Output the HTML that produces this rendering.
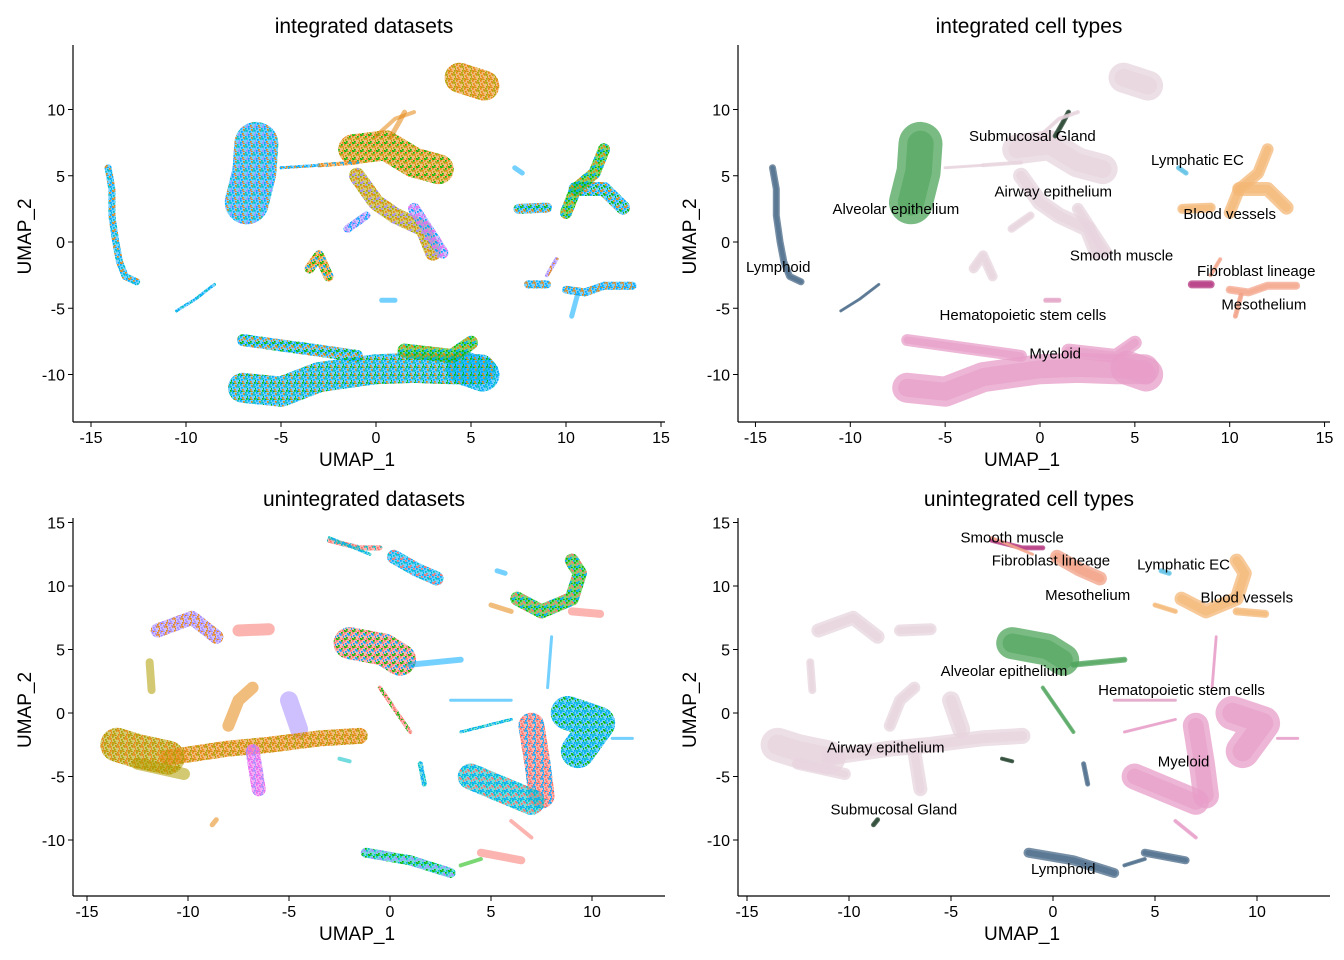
<!DOCTYPE html>
<html><head><meta charset="utf-8">
<style>
html,body{margin:0;padding:0;background:#fff;}
svg{display:block;font-family:"Liberation Sans","DejaVu Sans",sans-serif;}
</style></head>
<body>
<svg id="chart" width="1344" height="960" viewBox="0 0 1344 960"><defs id="defs"></defs></svg>
<script>
// ---------- data: cluster skeleton points (UMAP coordinates) ----------
const topNames = ["lymphoid","lymphoid-b","alveolar","airway-top","airway-main","airway-string","airway-string2","airway-link","airway-link2","airway-up","airway-left","airway-mid","submucosal","blood-a","blood-b","blood-c","lymphatic","smooth-muscle","fibroblast-a","fibroblast-b","mesothelium","hematopoietic","myeloid-body","myeloid-top","myeloid-right","myeloid-head"];
const topPoints = [
 [[-14.1,5.6],[-13.9,4],[-13.9,2],[-13.7,0],[-13.5,-1.5],[-13.2,-2.6],[-12.6,-3]],
 [[-10.5,-5.2],[-9.5,-4.3],[-8.5,-3.2]],
 [[-6.8,3],[-6.4,5.3],[-6.3,7.4]],
 [[4.4,12.4],[5.7,11.8]],
 [[-1.2,7],[0.5,7.3],[2,6],[3.3,5.5]],
 [[-1,5],[0,3],[1,2],[2.5,1],[3,-0.8]],
 [[2,2.5],[3.5,-0.8]],
 [[-3,5.8],[-1,6]],
 [[-5,5.6],[-3,5.8]],
 [[0,8],[1,9.3],[2,9.8]],
 [[-3.5,-2],[-3,-1],[-2.5,-2.6]],
 [[-1.5,1],[-0.5,2]],
 [[0.8,8],[1.2,9],[1.5,9.8]],
 [[7.5,2.5],[9,2.6]],
 [[10,2.2],[10.5,4],[11.5,5.2],[12,7]],
 [[10.5,4],[12,4],[13,2.6]],
 [[7.3,5.6],[7.7,5.2]],
 [[8,-3.2],[9,-3.2]],
 [[9,-2.5],[9.5,-1.3]],
 [[10,-3.6],[11,-3.8],[12,-3.3],[13.5,-3.3]],
 [[10.6,-4],[10.3,-5.6]],
 [[0.3,-4.4],[1,-4.4]],
 [[-7,-11],[-5,-11.3],[-3,-10.2],[0,-9.6],[2,-9.5],[4,-9.6],[5.5,-9.6]],
 [[-7,-7.4],[-4,-8],[-1,-8.6]],
 [[1.5,-8.2],[4,-8.6],[5,-7.6]],
 [[4.6,-9.5],[5.6,-10]]
];
const topWidth = [7,3,44,30,30,16,12,4,3,4,10,8,5,10,12,14,5,8,4,8,5,5,30,12,14,34];
const topType = ["Lymphoid","Lymphoid","Alveolar epithelium","Airway epithelium","Airway epithelium","Airway epithelium","Airway epithelium","Airway epithelium","Airway epithelium","Airway epithelium","Airway epithelium","Airway epithelium","Submucosal Gland","Blood vessels","Blood vessels","Blood vessels","Lymphatic EC","Smooth muscle","Fibroblast lineage","Fibroblast lineage","Mesothelium","Hematopoietic stem cells","Myeloid","Myeloid","Myeloid","Myeloid"];
const topMix = ["bto","bt","btop","oa","oag","aop","pbm","ob","bo","o","obg","pb","o","bog","gob","bgo","b","bo","po","bo","b","b","btog","bog","gob","bt"];

const botNames = ["smooth-muscle","fibro-line","fibroblast","lymphatic","blood-a","blood-b","blood-c","alveolar","alveolar-tail","alveolar-link","myeloid-a","myeloid-b","myeloid-c","myeloid-d","myeloid-e","myeloid-f","myeloid-g","myeloid-h","airway-tl","airway-strip","airway-long-a","airway-long-b","airway-orange","airway-pink","airway-purple","airway-low","airway-tl2","submucosal","gland-small","lymphoid-a","lymphoid-b","lymphoid-c","lymphoid-d"];
const botPoints = [
 [[-3,13.6],[-1.5,13],[-0.5,13]],
 [[-3,13.8],[-1,12.5]],
 [[0.2,12.3],[1.3,11.3],[2.3,10.6]],
 [[5.3,11.2],[5.7,11]],
 [[6.3,9],[7.5,8],[9,9],[9.4,11],[9,12]],
 [[9,8],[10.4,7.8]],
 [[5,8.5],[6,8]],
 [[-2,5.5],[-0.3,5],[0.5,4.2]],
 [[1,3.8],[3.5,4.2]],
 [[-0.5,2],[1,-1.5]],
 [[7,-1],[7.3,-4],[7.5,-6.5]],
 [[8.8,0],[10.3,-0.8],[9.3,-3]],
 [[4,-5],[5.5,-6],[7,-7]],
 [[3,1],[6,1]],
 [[7.8,2],[8,6]],
 [[11,-2],[12,-2]],
 [[3.5,-1.5],[6,-0.5]],
 [[6,-8.5],[7,-9.8]],
 [[-11.5,6.5],[-9.8,7.5],[-8.6,6]],
 [[-11.9,4],[-11.8,1.8]],
 [[-13.5,-2.5],[-12.5,-3],[-11,-3.5]],
 [[-11,-3.5],[-8,-2.8],[-6,-2.5],[-3.5,-2],[-1.5,-1.8]],
 [[-8,-1],[-7.5,1],[-6.8,2]],
 [[-6.8,-3],[-6.5,-6]],
 [[-5,1],[-4.5,-1.3]],
 [[-12.5,-4],[-10.2,-4.8]],
 [[-7.5,6.5],[-6,6.6]],
 [[-8.8,-8.8],[-8.6,-8.4]],
 [[-2.5,-3.6],[-2,-3.8]],
 [[-1.2,-11],[1,-11.6],[3,-12.6]],
 [[4.5,-11],[6.5,-11.6]],
 [[1.5,-4],[1.7,-5.6]],
 [[3.5,-12],[4.5,-11.5]]
];
const botWidth = [5,3,14,5,14,8,5,32,6,4,26,34,26,3,3,3,3,4,14,8,34,16,12,14,18,12,12,5,4,10,8,5,4];
const botType = ["Smooth muscle","Fibroblast lineage","Mesothelium","Lymphatic EC","Blood vessels","Blood vessels","Blood vessels","Alveolar epithelium","Alveolar epithelium","Alveolar epithelium","Myeloid","Myeloid","Myeloid","Hematopoietic stem cells","Myeloid","Myeloid","Myeloid","Myeloid","Airway epithelium","Airway epithelium","Airway epithelium","Airway epithelium","Airway epithelium","Airway epithelium","Airway epithelium","Airway epithelium","Airway epithelium","Submucosal Gland","Submucosal Gland","Lymphoid","Lymphoid","Lymphoid","Lymphoid"];
const botMix = ["rt","tb","btr","b","grb","r","o","rbg","b","rg","rb","bgt","trb","b","b","b","tb","r","po","y","yo","oy","o","mp","p","y","r","o","t","tpg","r","tb","g"];

const topLabels = ["Submucosal Gland","Lymphatic EC","Airway epithelium","Alveolar epithelium","Blood vessels","Lymphoid","Smooth muscle","Fibroblast lineage","Mesothelium","Hematopoietic stem cells","Myeloid"];
const topLabelX = [-0.4,8.3,0.7,-7.6,10,-13.8,4.3,11.4,11.8,-0.9,0.8];
const topLabelY = [8,6.2,3.8,2.5,2.1,-1.9,-1,-2.2,-4.7,-5.5,-8.4];
const botLabels = ["Smooth muscle","Fibroblast lineage","Lymphatic EC","Mesothelium","Blood vessels","Alveolar epithelium","Hematopoietic stem cells","Airway epithelium","Myeloid","Submucosal Gland","Lymphoid"];
const botLabelX = [-2,-0.1,6.4,1.7,9.5,-2.4,6.3,-8.2,6.4,-7.8,0.5];
const botLabelY = [13.8,12,11.7,9.3,9.1,3.3,1.8,-2.7,-3.8,-7.6,-12.3];

const typeColor = {"Airway epithelium":"#e7d4dd","Myeloid":"#e79dc8","Alveolar epithelium":"#4ea45b","Lymphoid":"#4a6a88","Blood vessels":"#f4b775","Fibroblast lineage":"#f4a68c","Mesothelium":"#f2a085","Smooth muscle":"#b3347e","Lymphatic EC":"#5cc0e6","Submucosal Gland":"#1f3f2a","Hematopoietic stem cells":"#e3a3c6"};
const dsColor = {b:"#00a9ff",o:"#e68613",a:"#aba300",g:"#0cb702",t:"#00bfc4",p:"#a58aff",m:"#ed68ed",r:"#f8766d",y:"#b09c00"};

// ---------- drawing ----------
const NS="http://www.w3.org/2000/svg";
const svg=document.getElementById('chart');
const defs=document.getElementById('defs');
function el(tag,attrs,parent){const e=document.createElementNS(NS,tag);for(const k in attrs)e.setAttribute(k,attrs[k]);(parent||svg).appendChild(e);return e;}

const dotPos=[[0,0],[4,2],[2,5],[6,6],[1,3],[5,0],[3,7],[7,4],[0,6],[6,2],[3,1],[1,7]];
const patCache={};
function pattern(mix){
 if(patCache[mix])return patCache[mix];
 const id='pat-'+mix;
 const pt=el('pattern',{id:id,width:8,height:8,patternUnits:'userSpaceOnUse'},defs);
 const cols=mix.split('');
 dotPos.forEach((q,i)=>{
  el('rect',{x:q[0],y:q[1],width:1.7,height:1.7,fill:dsColor[cols[i%cols.length]]},pt);
 });
 patCache[mix]='url(#'+id+')';
 return patCache[mix];
}

const panels=[
 {name:"integrated-datasets",title:"integrated datasets",x0:376,xs:19,y0:242,ys:13.25,left:73,right:665,top:45,bottom:422,xt:[-15,-10,-5,0,5,10,15],yt:[-10,-5,0,5,10],mode:"ds",emb:"top"},
 {name:"integrated-cell-types",title:"integrated cell types",x0:1040,xs:18.97,y0:242,ys:13.25,left:738,right:1330,top:45,bottom:422,xt:[-15,-10,-5,0,5,10,15],yt:[-10,-5,0,5,10],mode:"ct",emb:"top"},
 {name:"unintegrated-datasets",title:"unintegrated datasets",x0:390,xs:20.2,y0:713,ys:12.7,left:73,right:665,top:518,bottom:896,xt:[-15,-10,-5,0,5,10],yt:[-10,-5,0,5,10,15],mode:"ds",emb:"bot"},
 {name:"unintegrated-cell-types",title:"unintegrated cell types",x0:1053,xs:20.4,y0:713,ys:12.7,left:738,right:1330,top:518,bottom:896,xt:[-15,-10,-5,0,5,10],yt:[-10,-5,0,5,10,15],mode:"ct",emb:"bot"}
];

panels.forEach(p=>{
 const g=el('g',{});
 
 
 const X=v=>p.x0+v*p.xs, Y=v=>p.y0-v*p.ys;
 const pts=p.emb==="top"?topPoints:botPoints, ws=p.emb==="top"?topWidth:botWidth,
       types=p.emb==="top"?topType:botType, mixes=p.emb==="top"?topMix:botMix, names=p.emb==="top"?topNames:botNames;
 const order=pts.map((_,i)=>i).sort((a,b)=>ws[b]-ws[a]);
 order.forEach(i=>{
  const d=pts[i].map(q=>X(q[0]).toFixed(1)+','+Y(q[1]).toFixed(1)).join(' ');
  const cg=el('g',{},g);
  
  
  if(p.mode==="ct"){
   el('polyline',{points:d,fill:'none',stroke:typeColor[types[i]],'stroke-width':ws[i],'stroke-linecap':'round','stroke-linejoin':'round',opacity:0.75},cg);
   el('polyline',{points:d,fill:'none',stroke:typeColor[types[i]],'stroke-width':Math.max(2,ws[i]*0.6),'stroke-linecap':'round','stroke-linejoin':'round',opacity:0.6},cg);
  } else {
   const cols=mixes[i].split('').map(c=>dsColor[c]);
   el('polyline',{points:d,fill:'none',stroke:cols[0],'stroke-width':ws[i],'stroke-linecap':'round','stroke-linejoin':'round',opacity:0.55},cg);
   if(cols.length>1){
    el('polyline',{points:d,fill:'none',stroke:pattern(mixes[i]),'stroke-width':ws[i],'stroke-linecap':'round','stroke-linejoin':'round'},cg);
   }
  }
 });
 const ax=el('line',{x1:p.left,y1:p.top,x2:p.left,y2:p.bottom,stroke:'#000','stroke-width':1.2},g);
 
 const axx=el('line',{x1:p.left,y1:p.bottom,x2:p.right,y2:p.bottom,stroke:'#000','stroke-width':1.2},g);
 
 p.xt.forEach(t=>{
  el('line',{x1:X(t),y1:p.bottom,x2:X(t),y2:p.bottom+5,stroke:'#000','stroke-width':1},g);
  const tx=el('text',{x:X(t),y:p.bottom+21,'font-size':16,'text-anchor':'middle',fill:'#000'},g);
  tx.textContent=t;
  
 });
 p.yt.forEach(t=>{
  el('line',{x1:p.left-5,y1:Y(t),x2:p.left,y2:Y(t),stroke:'#000','stroke-width':1},g);
  const ty=el('text',{x:p.left-8,y:Y(t)+6,'font-size':16,'text-anchor':'end',fill:'#000'},g);
  ty.textContent=t;
  
 });
 const cx=(p.left+p.right)/2;
 const tt=el('text',{x:cx-5,y:p.top-12,'font-size':21,'text-anchor':'middle',fill:'#000'},g);
 tt.textContent=p.title;
 
 const xl=el('text',{x:cx-12,y:p.bottom+44,'font-size':19,'text-anchor':'middle',fill:'#000'},g);
 xl.textContent='UMAP_1';
 
 const yy=(p.top+p.bottom)/2+3, yx=p.left-42;
 const yl=el('text',{x:yx,y:yy,'font-size':19,'text-anchor':'middle',fill:'#000',transform:`rotate(-90 ${yx} ${yy})`},g);
 yl.textContent='UMAP_2';
 
 if(p.mode==="ct"){
  const L=p.emb==="top"?topLabels:botLabels, LX=p.emb==="top"?topLabelX:botLabelX, LY=p.emb==="top"?topLabelY:botLabelY;
  L.forEach((s,i)=>{
   const lt=el('text',{x:X(LX[i]),y:Y(LY[i])+5,'font-size':15,'text-anchor':'middle',fill:'#000'},g);
   lt.textContent=s;
   
  });
 }
});
</script>
</body></html>
